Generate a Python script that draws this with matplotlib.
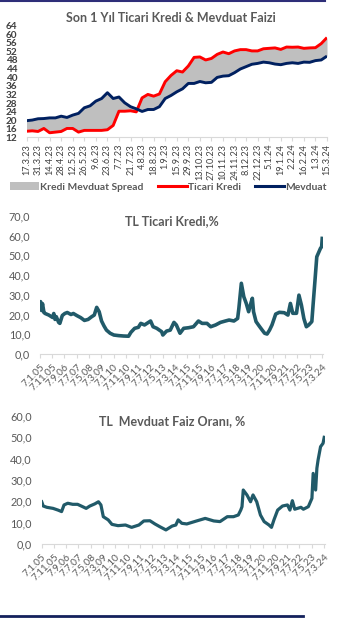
import matplotlib
matplotlib.use("Agg")
import matplotlib.pyplot as plt
import matplotlib.dates as mdates
from matplotlib.lines import Line2D
from matplotlib.patches import Patch
import numpy as np
import pandas as pd

plt.rcParams['font.family'] = ['Lato', 'DejaVu Sans']

# Son 1 yıl, haftalık veriler (17.3.23 - 15.3.24)
hafta_etiket = ["17.3.23", "31.3.23", "14.4.23", "28.4.23", "12.5.23", "26.5.23", "9.6.23",
                "23.6.23", "7.7.23", "21.7.23", "4.8.23", "18.8.23", "1.9.23", "15.9.23",
                "29.9.23", "13.10.23", "27.10.23", "10.11.23", "24.11.23", "8.12.23",
                "22.12.23", "5.1.24", "19.1.24", "2.2.24", "16.2.24", "1.3.24", "15.3.24"]
ticari_kredi = [14.9, 15.1, 14.8, 16.2, 14.2, 14.5, 14.8, 16.2, 16.2, 14.5,
                15.3, 15.3, 15.3, 15.3, 15.6, 17.6, 24.2, 24.2, 24.4, 23.9,
                30.4, 32.0, 31.2, 32.2, 37.9, 40.8, 43.0, 42.4, 45.2, 49.2,
                49.4, 48.0, 48.7, 50.6, 51.7, 50.9, 52.2, 52.8, 52.8, 52.2,
                52.2, 53.2, 53.4, 53.6, 52.9, 54.0, 53.9, 54.0, 53.4, 53.6,
                53.7, 55.6, 58.4]
mevduat = [19.8, 20.1, 20.7, 20.8, 21.1, 21.1, 21.9, 21.3, 22.4, 23.2,
           25.8, 26.7, 28.9, 30.1, 32.8, 30.1, 30.8, 28.1, 26.3, 25.3,
           24.1, 25.0, 25.0, 26.3, 30.1, 31.5, 33.2, 34.6, 37.1, 37.1,
           38.0, 37.4, 37.6, 39.9, 40.5, 40.7, 42.1, 43.8, 44.9, 46.0,
           46.4, 47.0, 46.7, 46.1, 45.8, 46.4, 46.7, 46.4, 47.0, 46.9,
           47.7, 48.0, 49.8]

# Uzun dönem TL ticari kredi faizi
kredi_tarih = ["2005-01-07", "2005-01-21", "2005-02-15", "2005-03-10", "2005-04-15", "2005-05-15",
               "2005-08-15", "2005-11-15", "2005-12-15", "2006-01-15", "2006-02-15", "2006-04-15",
               "2006-05-15", "2006-07-15", "2006-09-15", "2006-11-15", "2007-02-15", "2007-04-15",
               "2007-07-15", "2007-10-15", "2008-01-15", "2008-04-15", "2008-07-15", "2008-09-15",
               "2008-11-15", "2009-01-15", "2009-03-15", "2009-05-15", "2009-07-15", "2009-10-15",
               "2010-01-15", "2010-05-15", "2010-09-15", "2011-01-15", "2011-03-15", "2011-06-15",
               "2011-09-15", "2011-11-15", "2012-02-15", "2012-07-15", "2012-09-15", "2012-12-15",
               "2013-04-15", "2013-05-15", "2013-08-15", "2013-11-15", "2014-02-15", "2014-04-15",
               "2014-07-15", "2014-10-15", "2015-02-15", "2015-06-15", "2015-10-15", "2016-01-15",
               "2016-05-15", "2016-08-15", "2016-12-15", "2017-04-15", "2017-08-15", "2017-11-15",
               "2018-03-15", "2018-06-15", "2018-07-15", "2018-09-15", "2018-11-15", "2019-01-15",
               "2019-03-15", "2019-05-15", "2019-06-15", "2019-07-15", "2019-09-15", "2019-12-15",
               "2020-02-15", "2020-04-15", "2020-06-15", "2020-08-15", "2020-10-15", "2021-01-15",
               "2021-04-15", "2021-08-15", "2021-11-15", "2022-01-15", "2022-03-15", "2022-06-15",
               "2022-08-15", "2022-10-15", "2022-12-15", "2023-02-15", "2023-04-15", "2023-07-01",
               "2023-08-01", "2023-09-15", "2023-11-01", "2024-02-01", "2024-03-01", "2024-03-15"]
kredi_oran = [23.0, 26.5, 22.0, 25.5, 21.0, 20.5,
              19.7, 18.5, 20.5, 17.5, 18.9, 16.0,
              15.5, 19.5, 20.5, 21.0, 20.0, 20.5,
              19.4, 18.4, 17.0, 17.5, 18.9, 19.7,
              23.6, 21.4, 16.7, 14.2, 12.1, 10.5,
              9.6, 9.3, 9.1, 9.0, 11.0, 13.0,
              13.5, 15.5, 14.7, 16.7, 13.8, 13.0,
              11.3, 9.6, 11.6, 12.1, 16.0, 14.7,
              10.5, 13.0, 13.3, 13.8, 16.7, 15.5,
              15.5, 13.8, 14.7, 16.0, 16.7, 17.2,
              16.7, 18.0, 23.0, 35.8, 29.0, 25.6,
              21.4, 26.1, 28.2, 21.4, 16.4, 13.8,
              12.1, 10.5, 10.1, 12.1, 14.7, 20.2,
              21.1, 20.9, 19.7, 25.6, 20.6, 20.6,
              29.8, 24.8, 18.0, 13.8, 14.7, 16.4,
              24.8, 36.6, 49.2, 53.5, 54.3, 58.5]

# Uzun dönem TL mevduat faizi
mevduat_tarih = ["2005-01-07", "2005-02-15", "2005-05-15", "2005-10-15", "2006-02-15", "2006-05-15",
                 "2006-07-15", "2006-10-15", "2007-02-15", "2007-06-15", "2007-09-15", "2008-01-15",
                 "2008-04-15", "2008-08-15", "2008-11-15", "2009-01-15", "2009-03-15", "2009-07-15",
                 "2009-10-15", "2010-03-15", "2010-09-15", "2011-02-15", "2011-08-15", "2011-12-15",
                 "2012-05-15", "2012-09-15", "2013-01-15", "2013-06-15", "2013-11-15", "2014-02-15",
                 "2014-04-15", "2014-07-15", "2014-11-15", "2015-07-15", "2016-02-15", "2016-09-15",
                 "2017-02-15", "2017-08-15", "2018-01-15", "2018-05-15", "2018-07-15", "2018-08-15",
                 "2018-09-15", "2018-12-15", "2019-03-15", "2019-05-15", "2019-08-15", "2019-11-15",
                 "2020-02-15", "2020-06-15", "2020-08-15", "2020-10-15", "2021-01-15", "2021-05-15",
                 "2021-09-15", "2021-11-15", "2022-01-15", "2022-03-15", "2022-08-15", "2022-10-15",
                 "2023-02-15", "2023-05-15", "2023-06-15", "2023-08-15", "2023-09-15", "2023-10-15",
                 "2023-12-15", "2024-02-15", "2024-03-15"]
mevduat_oran = [19.8, 17.8, 17.2, 16.7, 15.9, 15.2,
                18.3, 19.1, 18.6, 18.6, 17.8, 16.7,
                17.8, 18.8, 19.8, 18.3, 12.8, 11.3,
                9.2, 8.6, 8.9, 7.8, 8.9, 10.8,
                10.9, 9.4, 8.1, 6.6, 8.4, 8.9,
                11.3, 9.7, 9.4, 10.8, 12.0, 10.8,
                10.5, 12.8, 12.8, 13.6, 15.9, 17.5,
                25.3, 23.0, 19.8, 23.0, 19.8, 13.6,
                10.5, 8.9, 7.8, 11.3, 15.9, 17.8,
                18.3, 15.9, 20.3, 16.3, 17.2, 16.3,
                17.5, 21.4, 33.1, 25.3, 35.5, 39.4,
                45.6, 47.2, 50.0]

W, H = 337, 618
BASLIK = '#595959'
EKSEN = '#D9D9D9'
CIZGI = '#215A69'


def kutu(sol, sag, ust, alt):
    # piksel koordinatlarından eksen kutusu
    return [sol / W, 1 - alt / H, (sag - sol) / W, (alt - ust) / H]


def sade_eksen(ax):
    for s in ['top', 'right', 'left']:
        ax.spines[s].set_visible(False)
    ax.spines['bottom'].set_color(EKSEN)
    ax.spines['bottom'].set_linewidth(0.8)
    ax.tick_params(axis='y', length=0)
    ax.tick_params(axis='x', length=3, color=EKSEN, width=0.8)


fig = plt.figure(figsize=(W / 100, H / 100), dpi=100)

# --- Son 1 yıl grafiği ---
ax1 = fig.add_axes(kutu(26.5, 327, 25.5, 137.5))
x = np.arange(len(mevduat))
ax1.fill_between(x, ticari_kredi, mevduat, color='#BFBFBF', lw=0)
ax1.plot(x, ticari_kredi, color='#FF0000', lw=2.1, solid_capstyle='butt')
ax1.plot(x, mevduat, color='#002060', lw=2.1, solid_capstyle='butt')
ax1.set_xlim(0, len(mevduat) - 1)
ax1.set_ylim(12, 64)
ax1.set_yticks(np.arange(12, 65, 4))
ax1.set_xticks(np.arange(0, len(mevduat), 2))
ax1.set_xticklabels(hafta_etiket, rotation=90, fontsize=6.6, color='#404040')
sade_eksen(ax1)
ax1.tick_params(axis='y', pad=6.5, labelsize=7.2, labelcolor='#404040')
for t in ax1.get_yticklabels():
    t.set_fontweight('bold')
ax1.tick_params(axis='x', pad=1.5)
fig.text(0.507, 1 - 17.5 / H, "Son 1 Yıl Ticari Kredi & Mevduat Faizi", ha='center', va='center',
         fontsize=9, fontweight='bold', color=BASLIK)

tutamac = [Patch(facecolor='#BFBFBF', edgecolor='none'),
           Line2D([0], [0], color='#FF0000', lw=2.2),
           Line2D([0], [0], color='#002060', lw=2.2)]
fig.legend(tutamac, ["Kredi Mevduat Spread", "Ticari Kredi", "Mevduat"], loc='center',
           bbox_to_anchor=(0.5, 1 - 187 / H), ncol=3, frameon=False, handlelength=2.8,
           handletextpad=0.1, columnspacing=1.4, labelcolor=BASLIK,
           prop={'weight': 'bold', 'size': 7.4})

# uzun dönem eksen etiketleri: 10 ayda bir
tick_tarih = pd.date_range('2005-01-07', periods=24, freq=pd.DateOffset(months=10))
tick_yazi = [f"{d.day}.{d.month}.{d:%y}" for d in tick_tarih]
xsol, xsag = pd.Timestamp('2005-01-07'), pd.Timestamp('2024-03-22')


def uzun_donem(ax, tarih, oran, ymax, baslik, baslik_y, lw):
    ax.plot(pd.to_datetime(tarih), oran, color=CIZGI, lw=lw, solid_joinstyle='round')
    ax.set_xlim(xsol, xsag)
    ax.set_ylim(0, ymax)
    ax.set_yticks(np.arange(0, ymax + 1, 10))
    ax.set_yticklabels([f"{v:.1f}".replace('.', ',') for v in np.arange(0, ymax + 1, 10)])
    ax.set_xticks(tick_tarih)
    ax.set_xticklabels(tick_yazi, rotation=45, ha='right', va='top', rotation_mode='anchor',
                       fontsize=7.2, color=BASLIK)
    sade_eksen(ax)
    ax.tick_params(axis='y', pad=7, labelsize=7.8, labelcolor=BASLIK)
    ax.tick_params(axis='x', pad=3)
    fig.text(0.51, 1 - baslik_y / H, baslik, ha='center', va='center',
             fontsize=9, fontweight='bold', color=BASLIK)


ax2 = fig.add_axes(kutu(40, 322.5, 215.7, 354))
uzun_donem(ax2, kredi_tarih, kredi_oran, 70, "TL Ticari Kredi,%", 221, 2.6)

ax3 = fig.add_axes(kutu(41.7, 324.5, 416, 544))
uzun_donem(ax3, mevduat_tarih, mevduat_oran, 60, "TL  Mevduat Faiz Oranı, %", 421.5, 2.3)

# sayfa kenar çizgileri
fig.add_artist(Line2D([0, 325 / W], [1 - 1 / H] * 2, color='#2E2E78', lw=1.5, transform=fig.transFigure))
fig.add_artist(Line2D([0, 303 / W], [1 - 616 / H] * 2, color='#14215C', lw=2, transform=fig.transFigure))

fig.savefig('out.png', dpi=100)
